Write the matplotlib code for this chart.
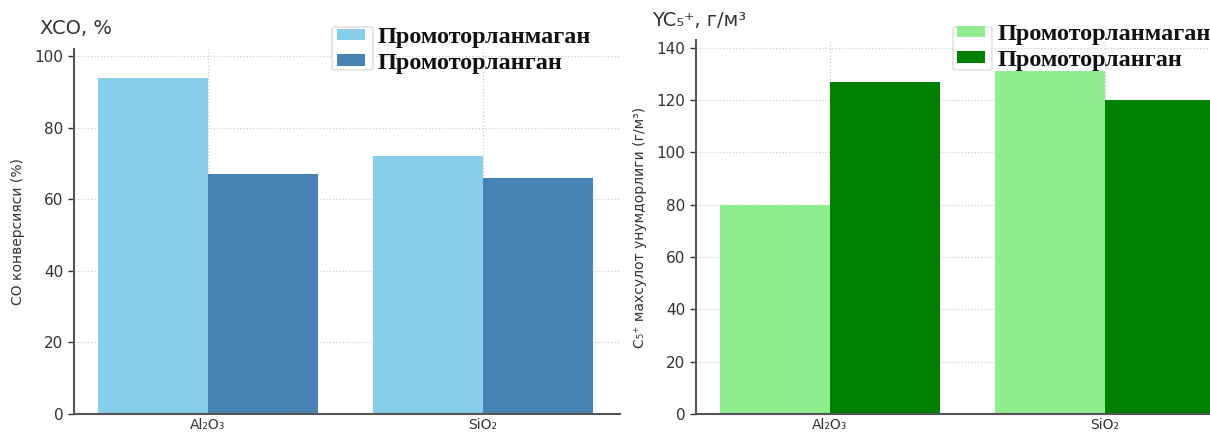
import matplotlib
matplotlib.use("Agg")
import matplotlib.pyplot as plt
from matplotlib.patches import FancyBboxPatch
import numpy as np

categories = ["Al₂O₃", "SiO₂"]
series_names = ["Промоторланмаган", "Промоторланган"]
xco_unpromoted = [94, 72]
xco_promoted = [67, 66]
yc5_unpromoted = [80, 131]
yc5_promoted = [127, 120]

W, H = 1210, 432
fig = plt.figure(figsize=(W / 100, H / 100), dpi=100)

def px_axes(x0, x1, y_bottom, y_top):
    return fig.add_axes([x0 / W, (H - y_bottom) / H, (x1 - x0) / W, (y_bottom - y_top) / H])

spine_col = "#555555"
text_col = "#333333"
legend_font = dict(family="Liberation Serif", weight="bold", size=17.5)

def style(ax, ylim, yticks, ylabel):
    x = np.arange(len(categories))
    ax.set_ylim(*ylim)
    ax.set_yticks(yticks)
    ax.set_xticks(x)
    ax.set_xticklabels(categories)
    ax.set_ylabel(ylabel, fontsize=10, color=text_col, labelpad=7)
    ax.grid(True, linestyle=":", color="#cccccc", linewidth=0.9)
    ax.set_axisbelow(True)
    for s in ["top", "right"]:
        ax.spines[s].set_visible(False)
    for s in ["left", "bottom"]:
        ax.spines[s].set_color(spine_col)
        ax.spines[s].set_linewidth(1.5)
    ax.tick_params(colors=text_col, labelsize=11, length=4, width=1)
    ax.tick_params(axis="x", labelsize=10, length=0, pad=3)

def frame_box(ax, x0, y0, x1, y1):
    p = FancyBboxPatch((x0 / W, 1 - y1 / H), (x1 - x0) / W, (y1 - y0) / H,
                       boxstyle="round,pad=0,rounding_size=0.004", transform=fig.transFigure,
                       facecolor="white", edgecolor="#dddddd", linewidth=1, zorder=5, clip_on=False)
    ax.add_artist(p)

def legend(ax, x_left, y_top):
    leg = ax.legend(loc="upper left", bbox_to_anchor=(x_left / W, 1 - y_top / H),
                    bbox_transform=fig.transFigure, prop=legend_font, frameon=False,
                    handlelength=1.15, handleheight=0.35, borderpad=0, borderaxespad=0,
                    labelspacing=0.2, handletextpad=0.5)
    leg.set_zorder(6)
    for t in leg.get_texts():
        t.set_color("#111111")
    return leg

x = np.arange(len(categories))
w = 0.4

# Left panel
ax1 = px_axes(74, 620, 414, 49)
ax1.bar(x - w / 2, xco_unpromoted, w, color="#87CEEB", label=series_names[0])
ax1.bar(x + w / 2, xco_promoted, w, color="#4682B4", label=series_names[1])
ax1.set_xlim(-0.487, 1.498)
style(ax1, (0, 102), [0, 20, 40, 60, 80, 100], "CO конверсияси (%)")
fig.text(40 / W, 1 - 28 / H, "XCO, %", fontsize=14, color=text_col, va="center", ha="left")
frame_box(ax1, 332, 27, 373, 70)
legend(ax1, 337, 27)

# Right panel
ax2 = px_axes(696, 1250, 414, 40)
ax2.bar(x - w / 2, yc5_unpromoted, w, color="#90EE90", label=series_names[0])
ax2.bar(x + w / 2, yc5_promoted, w, color="#008000", label=series_names[1])
ax2.set_xlim(-0.487, 1.527)
style(ax2, (0, 143), [0, 20, 40, 60, 80, 100, 120, 140], "C₅⁺ махсулот унумдорлиги (г/м³)")
fig.text(652 / W, 1 - 20 / H, "YC₅⁺, г/м³", fontsize=14, color=text_col, va="center", ha="left")
frame_box(ax2, 953, 27, 992, 70)
legend(ax2, 957, 24)

fig.savefig("out.png", dpi=100)
